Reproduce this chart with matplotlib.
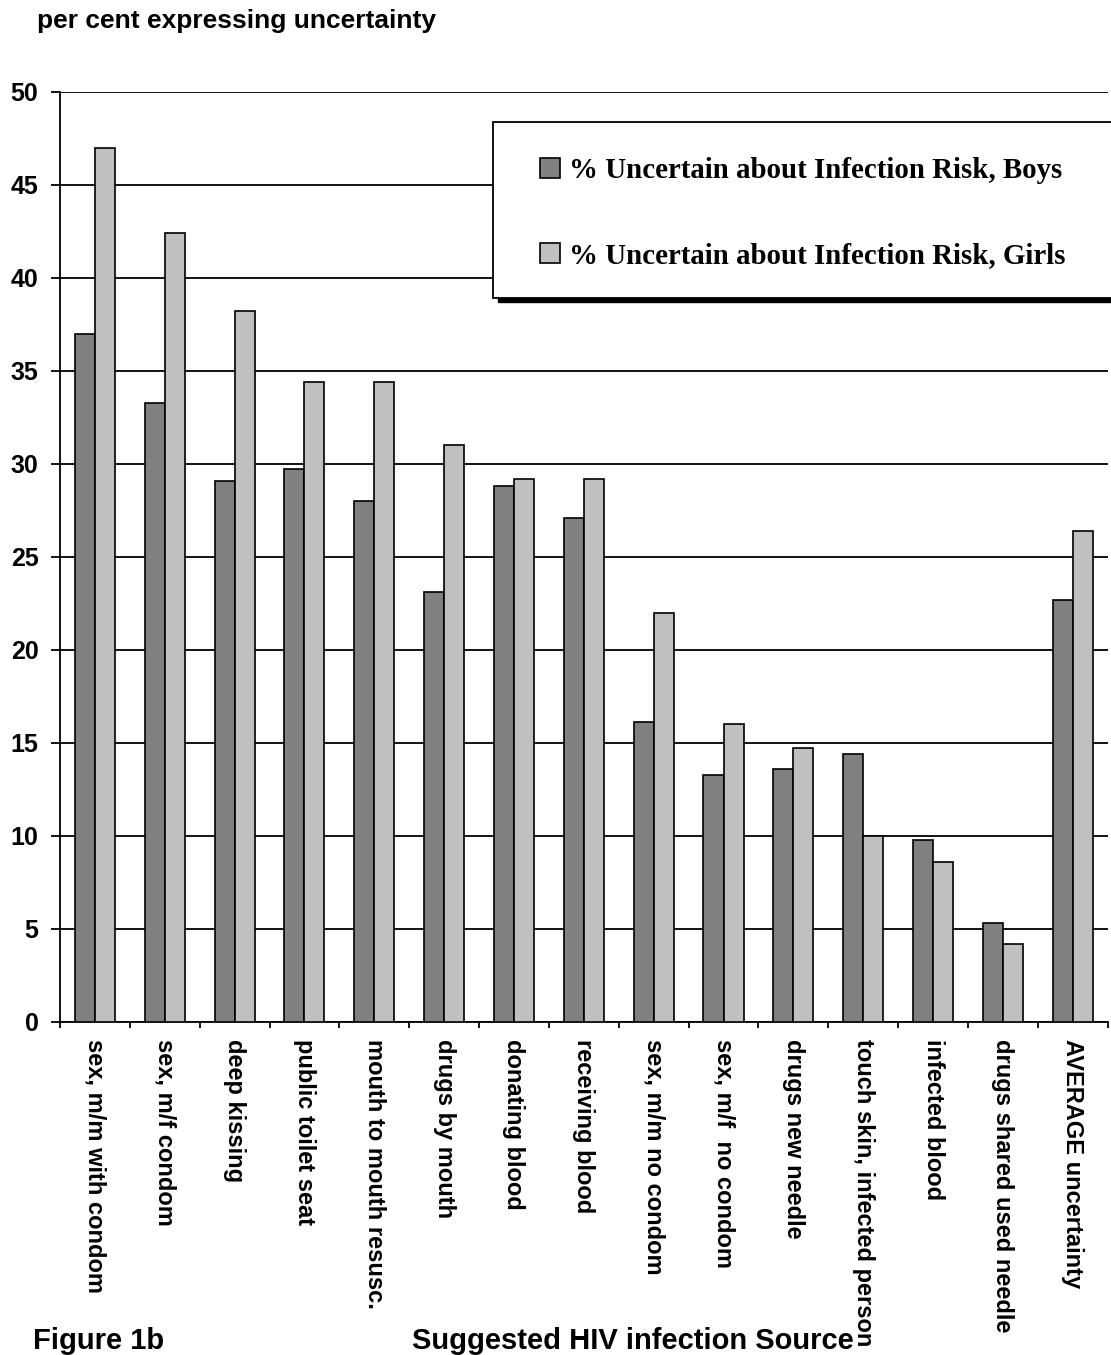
import numpy as np
import matplotlib
matplotlib.use("Agg")
import matplotlib.pyplot as plt
from matplotlib.patches import Rectangle

# Survey results: share of pupils uncertain about each suggested HIV source
sources = [
    "sex, m/m with condom", "sex, m/f condom", "deep kissing",
    "public toilet seat", "mouth to mouth resusc.", "drugs by mouth",
    "donating blood", "receiving blood", "sex, m/m no condom",
    "sex, m/f  no condom", "drugs new needle", "touch skin, infected person",
    "infected blood", "drugs shared used needle", "AVERAGE uncertainty",
]
boys = [37.0, 33.3, 29.1, 29.7, 28.0, 23.1, 28.8, 27.1, 16.1, 13.3, 13.6, 14.4, 9.8, 5.3, 22.7]
girls = [47.0, 42.4, 38.2, 34.4, 34.4, 31.0, 29.2, 29.2, 22.0, 16.0, 14.7, 10.0, 8.6, 4.2, 26.4]
yticks = list(range(0, 55, 5))

series_labels = ["% Uncertain about Infection Risk, Boys",
                 "% Uncertain about Infection Risk, Girls"]
BOYS_COLOR = "#808080"
GIRLS_COLOR = "#c0c0c0"

plt.rcParams["font.family"] = ["Liberation Sans", "DejaVu Sans"]
plt.rcParams["font.weight"] = "bold"

fig = plt.figure(figsize=(11.11, 13.55), dpi=100)
ax = fig.add_axes([0.054, 0.2458, 0.943, 0.6864])

x = np.arange(len(sources))
width = 0.287
ax.bar(x - width / 2, boys, width, color=BOYS_COLOR, edgecolor="black",
       linewidth=1.2, label=series_labels[0], zorder=3)
ax.bar(x + width / 2, girls, width, color=GIRLS_COLOR, edgecolor="black",
       linewidth=1.2, label=series_labels[1], zorder=3)

ax.set_xlim(-0.5, len(sources) - 0.5)
ax.set_ylim(0, 50)
ax.set_yticks(yticks)
ax.set_yticklabels([str(v) for v in yticks], fontsize=18, fontweight="bold")
ax.yaxis.grid(True, color="black", linewidth=1.3, zorder=0)
ax.set_axisbelow(True)

# tick marks between categories, labels at category centres
ax.set_xticks(np.arange(-0.5, len(sources), 1.0))
ax.set_xticklabels([])
ax.set_xticks(x, minor=True)
ax.set_xticklabels(sources, minor=True, rotation=270, ha="center", va="top",
                   fontsize=17, fontweight="bold")
ax.tick_params(axis="x", which="minor", length=0, pad=12)
ax.tick_params(axis="x", which="major", length=4.5, width=1.3, direction="out")
ax.tick_params(axis="y", length=6.5, width=1.3, direction="out", pad=9)

for side in ("top", "right"):
    ax.spines[side].set_visible(False)
for side in ("left", "bottom"):
    ax.spines[side].set_linewidth(1.3)

# legend box with a hard black drop shadow, running off the right edge
box_x, box_y, box_w, box_h = 0.4437, 0.7801, 0.60, 0.1299
ax.add_patch(Rectangle((box_x + 0.0045, box_y - 0.003), box_w, box_h,
                       transform=fig.transFigure, facecolor="black",
                       edgecolor="black", clip_on=False, zorder=4))
ax.add_patch(Rectangle((box_x, box_y), box_w, box_h,
                       transform=fig.transFigure, facecolor="white",
                       edgecolor="black", linewidth=1.3, clip_on=False, zorder=4.5))

leg = ax.legend(loc="upper left", bbox_to_anchor=(0.486, 0.8841),
                bbox_transform=fig.transFigure,
                prop={"family": "Liberation Serif", "weight": "bold", "size": 20.8},
                handlelength=0.69, handleheight=0.69, handletextpad=0.3,
                labelspacing=2.0, borderpad=0, borderaxespad=0, frameon=False)
leg.set_zorder(5)

fig.text(0.033, 0.9793, "per cent expressing uncertainty", fontsize=19,
         fontweight="bold", va="baseline", ha="left")
fig.text(0.0297, 0.0045, "Figure 1b", fontsize=21, fontweight="bold",
         va="baseline", ha="left")
fig.text(0.3708, 0.0045, "Suggested HIV infection Source", fontsize=21,
         fontweight="bold", va="baseline", ha="left")

fig.savefig("out.png", dpi=100)
